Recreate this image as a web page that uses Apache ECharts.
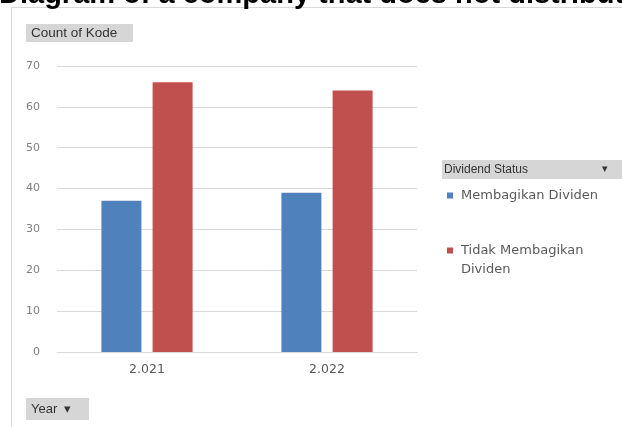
<!DOCTYPE html>
<html>
<head>
<meta charset="utf-8">
<script src="https://cdn.jsdelivr.net/npm/echarts@6/dist/echarts.min.js"></script>
<style>
html,body{margin:0;padding:0;background:#fff;}
#chart{width:622px;height:427px;}
</style>
</head>
<body>
<div id="chart"></div>
<script>
var titleText = 'Diagram of a company that does not distribute dividends';
var categories = ['2.021', '2.022'];
var seriesNames = ['Membagikan Dividen', 'Tidak Membagikan Dividen'];
var membagikan = [37, 39];
var tidakMembagikan = [66, 64];
var yTicks = {min: 0, max: 70, interval: 10};

var chart = echarts.init(document.getElementById('chart'));
var btnFont = '"Liberation Sans", Arial, sans-serif';
var option = {
  backgroundColor: '#ffffff',
  animation: false,
  title: {
    text: titleText,
    left: -1,
    top: -20,
    padding: 0,
    textStyle: {fontFamily: '"Liberation Sans", Arial, sans-serif', fontSize: 29, fontWeight: 'bold', color: '#000'}
  },
  graphic: [
    {type: 'rect', shape: {x: 11.5, y: 7.5, width: 700, height: 500}, style: {fill: 'none', stroke: '#d9d9d9', lineWidth: 1}, z: -1},
    {type: 'rect', shape: {x: 26, y: 24, width: 107, height: 18}, style: {fill: '#d6d6d6'}},
    {type: 'text', x: 31, y: 33, style: {text: 'Count of Kode', font: '13.5px ' + btnFont, fill: '#333', verticalAlign: 'middle'}},
    {type: 'rect', shape: {x: 26, y: 398, width: 63, height: 22}, style: {fill: '#d6d6d6'}},
    {type: 'text', x: 31, y: 409, style: {text: 'Year  \u25BE', font: '13px ' + btnFont, fill: '#333', verticalAlign: 'middle'}},
    {type: 'rect', shape: {x: 442, y: 160, width: 180, height: 19}, style: {fill: '#d6d6d6'}},
    {type: 'text', x: 444, y: 170, style: {text: 'Dividend Status', font: '12px ' + btnFont, fill: '#333', verticalAlign: 'middle'}},
    {type: 'text', x: 602, y: 169, style: {text: '\u25BE', font: '11px ' + btnFont, fill: '#333', verticalAlign: 'middle'}}
  ],
  legend: {
    orient: 'vertical',
    left: 447,
    top: 186,
    padding: 0,
    itemWidth: 6,
    itemHeight: 6,
    itemGap: 17,
    icon: 'rect',
    data: seriesNames,
    formatter: function (name) {
      if (name === seriesNames[1]) return ' \nTidak Membagikan\nDividen';
      return name;
    },
    textStyle: {fontFamily: '"DejaVu Sans", Verdana, sans-serif', fontSize: 13, color: '#595959', lineHeight: 19, padding: [0, 0, 0, 3]}
  },
  grid: {left: 57, right: 205, top: 66, bottom: 75},
  xAxis: {
    type: 'category',
    data: categories,
    axisLine: {lineStyle: {color: '#d9d9d9'}},
    axisTick: {show: false},
    axisLabel: {color: '#595959', fontSize: 12.5, margin: 11, fontFamily: '"DejaVu Sans", Verdana, sans-serif'}
  },
  yAxis: {
    type: 'value',
    min: yTicks.min,
    max: yTicks.max,
    interval: yTicks.interval,
    axisLine: {show: false},
    axisTick: {show: false},
    splitLine: {lineStyle: {color: '#d9d9d9'}},
    axisLabel: {color: '#7f7f7f', fontSize: 11, margin: 17, fontFamily: '"DejaVu Sans", Verdana, sans-serif'}
  },
  series: [
    {name: seriesNames[0], type: 'bar', data: membagikan, barWidth: 40, barGap: '28%', itemStyle: {color: '#4F81BD'}},
    {name: seriesNames[1], type: 'bar', data: tidakMembagikan, barWidth: 40, barGap: '28%', itemStyle: {color: '#C0504D'}}
  ]
};
chart.setOption(option);
</script>
</body>
</html>
